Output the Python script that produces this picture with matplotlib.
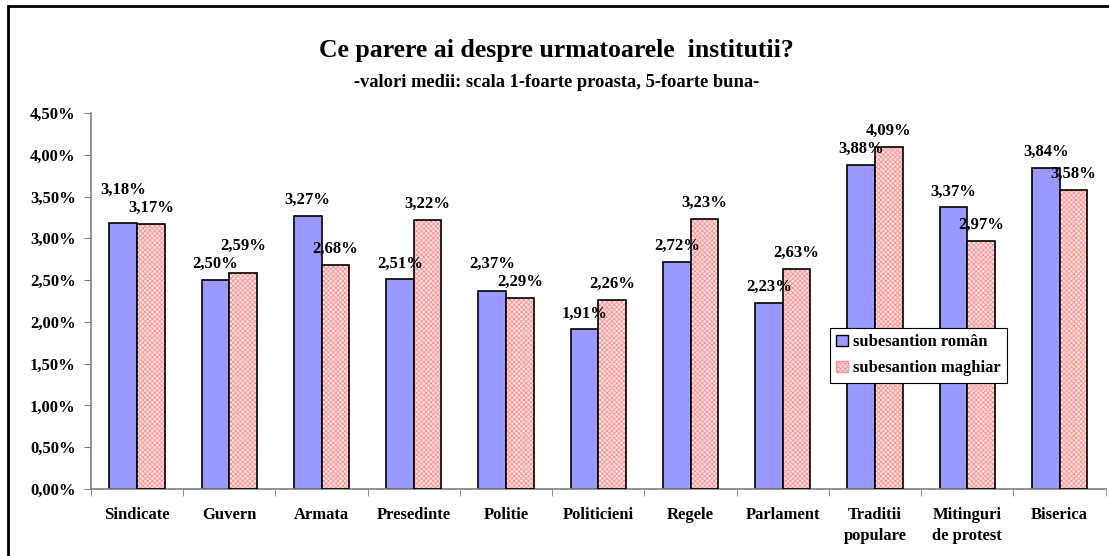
import numpy as np
import matplotlib
matplotlib.use('Agg')
import matplotlib.pyplot as plt
from matplotlib.patches import Rectangle
from matplotlib.ticker import FuncFormatter, MultipleLocator

categories = ['Sindicate', 'Guvern', 'Armata', 'Presedinte', 'Politie', 'Politicieni',
              'Regele', 'Parlament', 'Traditii\npopulare', 'Mitinguri\nde protest', 'Biserica']
roman = [3.18, 2.50, 3.27, 2.51, 2.37, 1.91, 2.72, 2.23, 3.88, 3.37, 3.84]
maghiar = [3.17, 2.59, 2.68, 3.22, 2.29, 2.26, 3.23, 2.63, 4.09, 2.97, 3.58]
series_names = ['subesantion român', 'subesantion maghiar']
title = 'Ce parere ai despre urmatoarele  institutii?'
subtitle = '-valori medii: scala 1-foarte proasta, 5-foarte buna-'

plt.rcParams['font.family'] = 'Liberation Serif'
plt.rcParams['font.weight'] = 'bold'
plt.rcParams['hatch.linewidth'] = 0.7

fig = plt.figure(figsize=(11.09, 5.56), dpi=100)
ax = fig.add_axes([0.082, 0.1205, 0.915, 0.6763])

x = np.arange(len(categories))
w = 0.3
blue = '#9999FF'
pink_bg = '#FFE8E8'
pink_hatch = '#FF9494'

ax.bar(x - w / 2, roman, w, color=blue, edgecolor='black', linewidth=1.2, zorder=2)
# hatched pink fill, then black outline on top
ax.bar(x + w / 2, maghiar, w, color=pink_bg, edgecolor=pink_hatch, hatch='xxxxxxx',
       linewidth=0, zorder=2)
ax.bar(x + w / 2, maghiar, w, fill=False, edgecolor='black', linewidth=1.2, zorder=3)

fmt = lambda v: ('%.2f%%' % v).replace('.', ',')

# label placement: a bit above each bar, lift the taller one when the pair would collide
off = 0.19
sep = 0.215
for i in range(len(categories)):
    yb = roman[i] + off
    yp = maghiar[i] + off
    if abs(yb - yp) < sep:
        if roman[i] >= maghiar[i]:
            yb = yp + sep
        else:
            yp = yb + sep
    ax.text(x[i] - w / 2, yb, fmt(roman[i]), ha='center', va='center', fontsize=12,
            fontweight='bold', zorder=4)
    ax.text(x[i] + w / 2, yp, fmt(maghiar[i]), ha='center', va='center', fontsize=12,
            fontweight='bold', zorder=4)

ax.set_xlim(-0.5, len(categories) - 0.5)
ax.set_ylim(0, 4.5)
ax.yaxis.set_major_locator(MultipleLocator(0.5))
ax.yaxis.set_major_formatter(FuncFormatter(lambda v, p: fmt(v)))
ax.set_xticks(x)
ax.set_xticklabels(categories, fontsize=12, fontweight='bold', linespacing=1.45)
ax.set_xticks(np.arange(-0.5, len(categories), 1), minor=True)
ax.tick_params(axis='x', which='major', length=0, pad=13)
ax.tick_params(axis='x', which='minor', length=5, color='#808080', direction='out')
ax.tick_params(axis='y', length=5, color='#808080', labelsize=12, pad=6)
for lab in ax.get_yticklabels():
    lab.set_fontweight('bold')

for s in ['top', 'right']:
    ax.spines[s].set_visible(False)
for s in ['left', 'bottom']:
    ax.spines[s].set_color('#808080')
    ax.spines[s].set_linewidth(1.2)

h1 = Rectangle((0, 0), 1, 1, facecolor=blue, edgecolor='black', linewidth=1)
h2 = Rectangle((0, 0), 1, 1, facecolor=pink_bg, edgecolor=pink_hatch, hatch='xxxxxxx', linewidth=1)
leg = ax.legend([h1, h2], series_names, loc='lower left', bbox_to_anchor=(0.728, 0.282),
                fancybox=False, edgecolor='black', framealpha=1, fontsize=12,
                handlelength=0.7, handleheight=0.7, handletextpad=0.3,
                labelspacing=0.6, borderpad=0.4, borderaxespad=0)
leg.get_frame().set_linewidth(0.8)
for t in leg.get_texts():
    t.set_fontweight('bold')

fig.text(0.502, 0.910, title, ha='center', va='center', fontsize=18.5, fontweight='bold')
fig.text(0.502, 0.852, subtitle, ha='center', va='center', fontsize=13.3, fontweight='bold')

# outer frame of the chart (runs off right and bottom)
fig.add_artist(Rectangle((0.0072, -0.05), 1.1, 1.039, transform=fig.transFigure,
                         fill=False, edgecolor='black', linewidth=2, clip_on=False))
fig.text(0.035, 1.005, 'g', ha='center', va='bottom', fontsize=16, fontstyle='italic',
         fontweight='bold')

fig.savefig('out.png', dpi=100)
